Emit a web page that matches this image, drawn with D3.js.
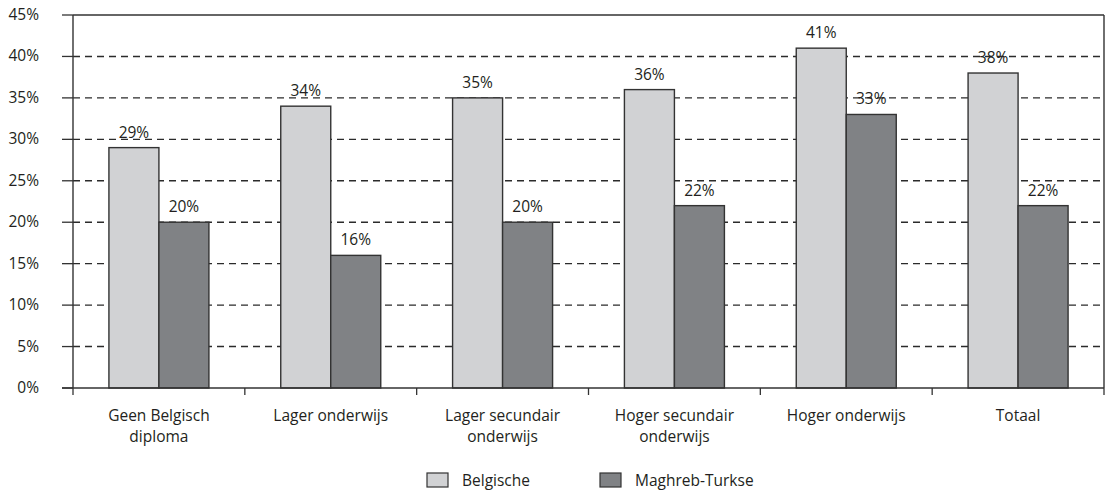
<!DOCTYPE html>
<html><head><meta charset="utf-8">
<script src="https://cdn.jsdelivr.net/npm/d3@7"></script>
<style>body{margin:0;background:#fff}svg text{font-family:"Open Sans",sans-serif;fill:#231f20}</style>
</head><body><svg id="c" width="1110" height="493"></svg>
<script>
const categories = [["Geen Belgisch","diploma"],["Lager onderwijs"],["Lager secundair","onderwijs"],["Hoger secundair","onderwijs"],["Hoger onderwijs"],["Totaal"]];
const seriesNames = ["Belgische","Maghreb-Turkse"];
const belgische = [29,34,35,36,41,38];
const maghreb = [20,16,20,22,33,22];
const yTicks = [0,5,10,15,20,25,30,35,40,45];
const colors = ["#d1d2d4","#808285"];

const svg = d3.select("#c");
const L=73,R=1104,T=15,B=388;
const x = d3.scaleBand().domain(d3.range(categories.length)).range([L,R]);
const y = d3.scaleLinear().domain([0,45]).range([B,T]);
const bw = 50;

// grid
const g = svg.append("g");
g.selectAll("line.grid").data(yTicks.filter(d=>d>0&&d<45)).join("line")
 .attr("x1",L).attr("x2",R).attr("y1",d=>y(d)).attr("y2",d=>y(d))
 .attr("stroke","#2b2b2b").attr("stroke-width",1.4).attr("stroke-dasharray","7,5");
// y ticks
g.selectAll("line.yt").data(yTicks).join("line")
 .attr("x1",L-11).attr("x2",L).attr("y1",d=>y(d)).attr("y2",d=>y(d)).attr("stroke","#333").attr("stroke-width",1.3);
g.selectAll("text.yl").data(yTicks).join("text")
 .attr("x",39).attr("y",d=>y(d)+5).attr("text-anchor","end").attr("font-size",15.5).text(d=>d+"%");
// frame
svg.append("line").attr("x1",L).attr("x2",R).attr("y1",T).attr("y2",T).attr("stroke","#333").attr("stroke-width",1.4);
svg.append("line").attr("x1",R).attr("x2",R).attr("y1",T).attr("y2",B).attr("stroke","#333").attr("stroke-width",1.4);
svg.append("line").attr("x1",L).attr("x2",L).attr("y1",T).attr("y2",B).attr("stroke","#333").attr("stroke-width",1.4);

// bars
const series=[belgische,maghreb];
series.forEach((vals,si)=>{
  const cx=i=>x(i)+x.bandwidth()/2;
  svg.append("g").selectAll("rect").data(vals).join("rect")
   .attr("x",(d,i)=>cx(i)-bw+si*bw).attr("width",bw)
   .attr("y",d=>y(d)).attr("height",d=>B-y(d))
   .attr("fill",colors[si]).attr("stroke","#333").attr("stroke-width",1.4);
  svg.append("g").selectAll("text").data(vals).join("text")
   .attr("x",(d,i)=>cx(i)-bw/2+si*bw).attr("y",d=>y(d)-10)
   .attr("text-anchor","middle").attr("font-size",15.5).text(d=>d+"%");
});
// x axis
svg.append("line").attr("x1",L-11).attr("x2",R).attr("y1",B).attr("y2",B).attr("stroke","#333").attr("stroke-width",1.4);
svg.append("g").selectAll("line").data(d3.range(categories.length+1)).join("line")
 .attr("x1",i=>L+i*x.bandwidth()).attr("x2",i=>L+i*x.bandwidth()).attr("y1",B).attr("y2",B+7).attr("stroke","#333").attr("stroke-width",1.3);
const xl = svg.append("g").selectAll("text").data(categories).join("text")
 .attr("x",(d,i)=>x(i)+x.bandwidth()/2).attr("y",421).attr("text-anchor","middle").attr("font-size",15.5);
xl.each(function(d){const t=d3.select(this);d.forEach((s,k)=>t.append("tspan").attr("x",t.attr("x")).attr("dy",k?21:0).text(s));});

// legend
const lx=[427,600];
seriesNames.forEach((n,i)=>{
  svg.append("rect").attr("x",lx[i]).attr("y",473).attr("width",21).attr("height",14).attr("fill",colors[i]).attr("stroke","#333").attr("stroke-width",1.2);
  svg.append("text").attr("x",lx[i]+35).attr("y",486).attr("font-size",15.5).text(n);
});
</script></body></html>
